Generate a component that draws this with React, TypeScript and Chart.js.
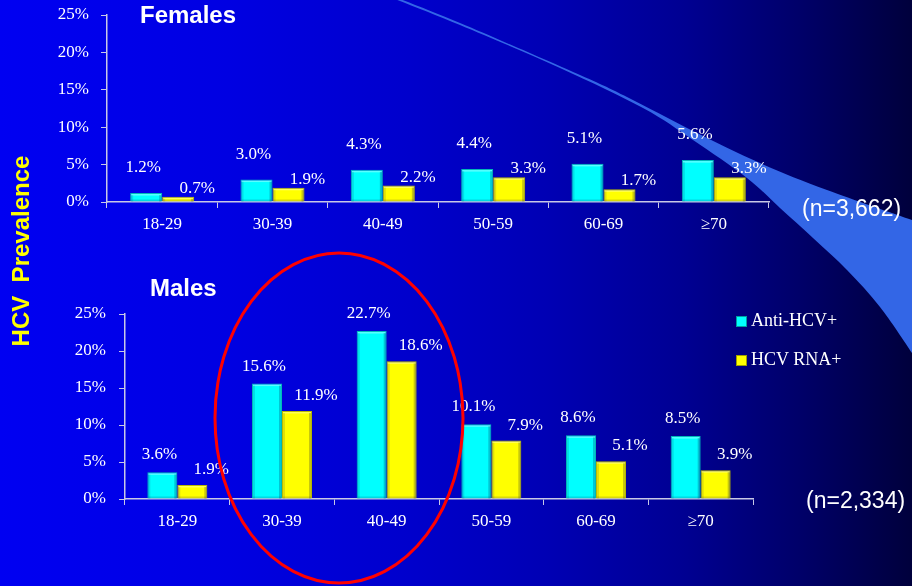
import React, { useEffect, useRef } from 'react';
import { Chart, registerables } from 'chart.js';

Chart.register(...registerables);

// ---------- data ----------
const ageGroups = ['18-29', '30-39', '40-49', '50-59', '60-69', '≥70'];
const seriesNames = ['Anti-HCV+', 'HCV RNA+'];
const femalesAntiHCV = [1.2, 3.0, 4.3, 4.4, 5.1, 5.6];
const femalesRNA = [0.7, 1.9, 2.2, 3.3, 1.7, 3.3];
const malesAntiHCV = [3.6, 15.6, 22.7, 10.1, 8.6, 8.5];
const malesRNA = [1.9, 11.9, 18.6, 7.9, 5.1, 3.9];
const yTicks = [0, 5, 10, 15, 20, 25];
const femalesN = '(n=3,662)';
const malesN = '(n=2,334)';

// ---------- style ----------
const W = 912;
const H = 586;
const SERIF = "'Liberation Serif', 'Times New Roman', Times, serif";
const SANS = "'Liberation Sans', Arial, Helvetica, sans-serif";
const AXIS = '#C8C8E6';
const CYAN = '#00FFFF';
const YELLOW = '#FFFF00';

type Area = { left: number; right: number; top: number; bottom: number; cat: number };
type Off = { dx: number; gap: number };

const bevelPlugin = {
  id: 'bevel',
  afterDatasetsDraw(chart: any) {
    const ctx = chart.ctx;
    ctx.save();
    chart.data.datasets.forEach((_ds: any, di: number) => {
      const meta = chart.getDatasetMeta(di);
      meta.data.forEach((el: any) => {
        const p = el.getProps(['x', 'y', 'base', 'width'], true);
        const l = p.x - p.width / 2;
        const r = p.x + p.width / 2;
        const h = p.base - p.y;
        ctx.fillStyle = 'rgba(255,255,255,0.35)';
        ctx.fillRect(l + 1, p.y + 1, p.width - 2, 1.5);
        ctx.fillStyle = 'rgba(0,0,60,0.12)';
        ctx.fillRect(l + 1, p.y + 2, 2, h - 2);
        ctx.fillStyle = 'rgba(0,0,60,0.22)';
        ctx.fillRect(r - 3, p.y + 2, 2, h - 2);
        ctx.fillStyle = 'rgba(0,0,60,0.15)';
        ctx.fillRect(l + 1, p.base - 2, p.width - 2, 2);
      });
    });
    ctx.restore();
  },
};

function makeLabelPlugin(offsets: Off[]) {
  return {
    id: 'barLabels',
    afterDatasetsDraw(chart: any) {
      const ctx = chart.ctx;
      ctx.save();
      ctx.font = `17px ${SERIF}`;
      ctx.fillStyle = '#FFFFFF';
      ctx.textAlign = 'center';
      ctx.textBaseline = 'alphabetic';
      chart.data.datasets.forEach((ds: any, di: number) => {
        const meta = chart.getDatasetMeta(di);
        const off = offsets[di];
        meta.data.forEach((el: any, i: number) => {
          const v = ds.data[i] as number;
          ctx.fillText(v.toFixed(1) + '%', el.x + off.dx, el.y - off.gap);
        });
      });
      ctx.restore();
    },
  };
}

function makeConfig(anti: number[], rna: number[], area: Area, offsets: Off[], yPad: number): any {
  const XH = 40;
  return {
    type: 'bar',
    data: {
      labels: ageGroups,
      datasets: [
        {
          label: seriesNames[0],
          data: anti,
          backgroundColor: CYAN,
          borderColor: '#00B8B8',
          borderWidth: 1,
          categoryPercentage: area.cat,
          barPercentage: 1,
        },
        {
          label: seriesNames[1],
          data: rna,
          backgroundColor: YELLOW,
          borderColor: '#B8B800',
          borderWidth: 1,
          categoryPercentage: area.cat,
          barPercentage: 1,
        },
      ],
    },
    options: {
      responsive: false,
      maintainAspectRatio: false,
      animation: false,
      events: [],
      layout: {
        padding: { left: 0, top: area.top, right: W - area.right, bottom: H - area.bottom - XH },
      },
      plugins: {
        legend: { display: false },
        tooltip: { enabled: false },
        title: { display: false },
      },
      scales: {
        x: {
          type: 'category',
          offset: true,
          grid: { display: true, drawOnChartArea: false, drawTicks: true, tickLength: 6, color: AXIS, offset: true },
          border: { display: true, color: AXIS, width: 1.5 },
          ticks: { color: '#FFFFFF', font: { family: SERIF, size: 17 }, padding: 6, maxRotation: 0, autoSkip: false },
          afterFit: (s: any) => {
            s.height = XH;
            s.paddingLeft = 0;
            s.paddingRight = 0;
            s.paddingTop = 0;
            s.paddingBottom = 0;
          },
        },
        y: {
          type: 'linear',
          min: yTicks[0],
          max: yTicks[yTicks.length - 1],
          afterBuildTicks: (s: any) => {
            s.ticks = yTicks.map((v) => ({ value: v }));
          },
          ticks: {
            color: '#FFFFFF',
            font: { family: SERIF, size: 17 },
            padding: yPad,
            callback: (v: any) => `${v}%`,
          },
          grid: { display: true, drawOnChartArea: false, drawTicks: true, tickLength: 6, color: AXIS },
          border: { display: true, color: AXIS, width: 1.5 },
          afterFit: (s: any) => {
            s.width = area.left;
            s.paddingTop = 0;
            s.paddingBottom = 0;
            s.paddingLeft = 0;
            s.paddingRight = 0;
          },
        },
      },
    },
    plugins: [bevelPlugin, makeLabelPlugin(offsets)],
  };
}

function BarChart(props: { anti: number[]; rna: number[]; area: Area; offsets: Off[]; yPad: number }) {
  const ref = useRef<HTMLCanvasElement | null>(null);
  useEffect(() => {
    if (!ref.current) return;
    const chart = new Chart(ref.current, makeConfig(props.anti, props.rna, props.area, props.offsets, props.yPad));
    return () => chart.destroy();
  }, []);
  return (
    <canvas
      ref={ref}
      width={W}
      height={H}
      style={{ position: 'absolute', left: 0, top: 0, width: W, height: H }}
    />
  );
}

// ---------- decorative swoosh ----------
type P = [number, number];
function smooth(pts: P[], move: boolean): string {
  let d = move ? `M${pts[0][0]},${pts[0][1]}` : `L${pts[0][0]},${pts[0][1]}`;
  for (let i = 0; i < pts.length - 1; i++) {
    const p0 = pts[i - 1] || pts[i];
    const p1 = pts[i];
    const p2 = pts[i + 1];
    const p3 = pts[i + 2] || p2;
    const c1x = p1[0] + (p2[0] - p0[0]) / 6;
    const c1y = p1[1] + (p2[1] - p0[1]) / 6;
    const c2x = p2[0] - (p3[0] - p1[0]) / 6;
    const c2y = p2[1] - (p3[1] - p1[1]) / 6;
    d += ` C${c1x},${c1y} ${c2x},${c2y} ${p2[0]},${p2[1]}`;
  }
  return d;
}

const swooshUpper: P[] = [
  [382, -8], [460, 23], [580, 75], [627, 97], [693, 131], [760, 163], [827, 190], [912, 220], [930, 226],
];
const swooshLower: P[] = [
  [382, -6], [460, 25], [560, 68], [643, 108], [693, 140], [747, 178], [780, 208], [813, 238], [847, 270], [880, 307], [912, 353], [922, 370],
];
const swooshPath = smooth(swooshUpper, true) + ' ' + smooth([...swooshLower].reverse(), false) + ' Z';

export default function App() {
  return (
    <div
      style={{
        position: 'fixed',
        left: 0,
        top: 0,
        width: W,
        height: H,
        overflow: 'hidden',
        background:
          'linear-gradient(to right, #0000F2 0%, #0000E2 25%, #0000CC 45%, #0000B4 60%, #000092 75%, #000068 88%, #00003C 100%)',
      }}
    >
      <svg width={W} height={H} style={{ position: 'absolute', left: 0, top: 0 }}>
        <path d={swooshPath} fill="#3366E6" />
      </svg>

      <BarChart
        anti={femalesAntiHCV}
        rna={femalesRNA}
        area={{ left: 107, right: 769, top: 15, bottom: 202, cat: 0.58 }}
        offsets={[{ dx: -3, gap: 21 }, { dx: 19, gap: 4 }]}
        yPad={12}
      />
      <BarChart
        anti={malesAntiHCV}
        rna={malesRNA}
        area={{ left: 125, right: 753, top: 314, bottom: 499, cat: 0.573 }}
        offsets={[{ dx: -3, gap: 13 }, { dx: 19, gap: 11 }]}
        yPad={13}
      />

      <div style={{ position: 'absolute', left: 140, top: 3, font: `bold 24px/24px ${SANS}`, color: '#FFFFFF', whiteSpace: 'nowrap' }}>
        Females
      </div>
      <div style={{ position: 'absolute', left: 150, top: 276, font: `bold 24px/24px ${SANS}`, color: '#FFFFFF', whiteSpace: 'nowrap' }}>
        Males
      </div>
      <div style={{ position: 'absolute', left: 802, top: 197, font: `23px/23px ${SANS}`, color: '#FFFFFF', whiteSpace: 'nowrap' }}>
        {femalesN}
      </div>
      <div style={{ position: 'absolute', left: 806, top: 489, font: `23px/23px ${SANS}`, color: '#FFFFFF', whiteSpace: 'nowrap' }}>
        {malesN}
      </div>
      <div
        style={{
          position: 'absolute',
          left: 20.5 - 130,
          top: 251 - 12,
          width: 260,
          height: 24,
          font: `bold 24px/24px ${SANS}`,
          color: '#FFFF00',
          whiteSpace: 'pre',
          textAlign: 'center',
          transform: 'rotate(-90deg)',
          transformOrigin: '50% 50%',
        }}
      >
        {'HCV  Prevalence'}
      </div>

      {/* legend */}
      {seriesNames.map((name, i) => (
        <div key={name} style={{ position: 'absolute', left: 736, top: i === 0 ? 311 : 350, height: 18, whiteSpace: 'nowrap' }}>
          <div
            style={{
              position: 'absolute',
              left: 0,
              top: 5,
              width: 9,
              height: 9,
              background: i === 0 ? CYAN : YELLOW,
              border: `1px solid ${i === 0 ? '#00A0A0' : '#A0A000'}`,
            }}
          />
          <div style={{ position: 'absolute', left: 15, top: 0, font: `18px/18px ${SERIF}`, color: '#FFFFFF' }}>{name}</div>
        </div>
      ))}

      <svg width={W} height={H} style={{ position: 'absolute', left: 0, top: 0 }}>
        <ellipse cx={339} cy={418} rx={124} ry={165} fill="none" stroke="#FF0000" strokeWidth={3} />
      </svg>
    </div>
  );
}
